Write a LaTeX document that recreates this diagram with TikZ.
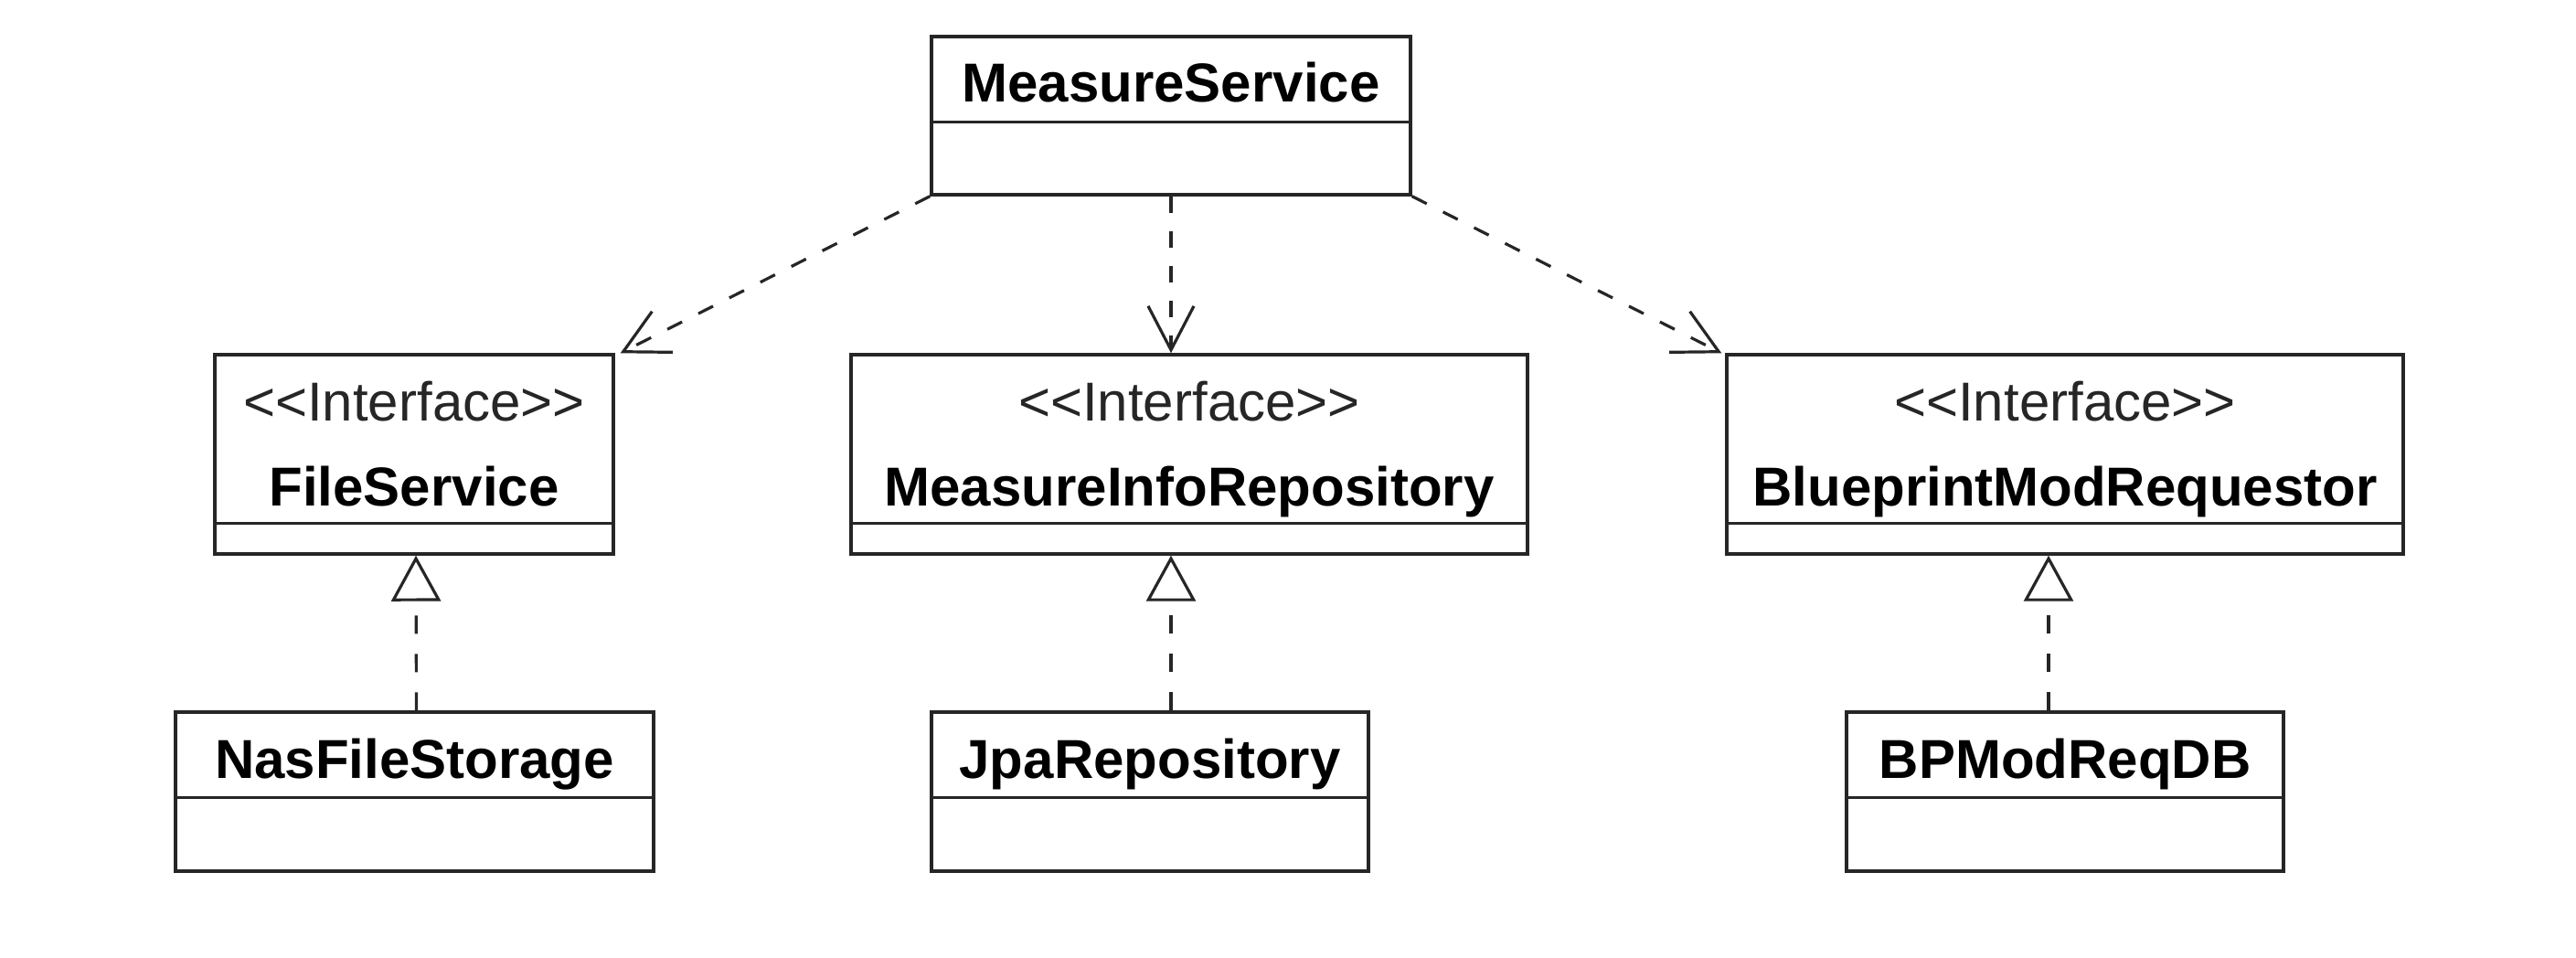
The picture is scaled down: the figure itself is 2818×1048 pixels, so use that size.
\documentclass[tikz,border=0pt]{standalone}
\usepackage{fontspec}
\setmainfont{Liberation Sans}
\usetikzlibrary{arrows.meta}
\newcommand{\stereoInterface}{<\kern0pt<\kern0pt Interface\kern0pt>\kern0pt>}
\begin{document}
\begin{tikzpicture}[x=0.25pt,y=-0.25pt,
  classbox/.style={draw=black!85, line width=0.85pt, rectangle, inner sep=0pt, fill=white},
  nametext/.style={anchor=base, inner sep=0pt, font=\fontsize{15pt}{18pt}\selectfont\bfseries, text=black},
  stereotext/.style={anchor=base, inner sep=0pt, font=\fontsize{15pt}{18pt}\selectfont, text=black!85},
  divline/.style={draw=black!85, line width=0.85pt},
  dep/.style={draw=black!85, line width=0.8pt, dash pattern=on 4.5pt off 5pt,
    -{Straight Barb[length=12pt,width=12.5pt,line width=0.8pt]}},
  real/.style={draw=black!85, line width=0.8pt, dash pattern=on 5pt off 5.5pt,
    -{Triangle[length=12.5pt,width=13.5pt,fill=white,line width=0.8pt]}}
]
\useasboundingbox (0,0) rectangle (2818,1048);

% boxes
\node[classbox, minimum width=131pt, minimum height=43.25pt] (ms) at (1281,126.5) {};
\node[classbox, minimum width=109pt, minimum height=54.5pt] (fs) at (453,497) {};
\node[classbox, minimum width=185pt, minimum height=54.5pt] (mir) at (1301,497) {};
\node[classbox, minimum width=185pt, minimum height=54.5pt] (bpr) at (2259,497) {};
\node[classbox, minimum width=130.75pt, minimum height=43.5pt] (nfs) at (453.5,866) {};
\node[classbox, minimum width=119.5pt, minimum height=43.5pt] (jpa) at (1258,866) {};
\node[classbox, minimum width=119.5pt, minimum height=43.5pt] (bpdb) at (2259,866) {};

% compartment dividers
\draw[divline] ([yshift=20.25pt]ms.south west) -- ([yshift=20.25pt]ms.south east);
\draw[divline] ([yshift=8.75pt]fs.south west) -- ([yshift=8.75pt]fs.south east);
\draw[divline] ([yshift=8.75pt]mir.south west) -- ([yshift=8.75pt]mir.south east);
\draw[divline] ([yshift=8.75pt]bpr.south west) -- ([yshift=8.75pt]bpr.south east);
\draw[divline] ([yshift=20.5pt]nfs.south west) -- ([yshift=20.5pt]nfs.south east);
\draw[divline] ([yshift=20.5pt]jpa.south west) -- ([yshift=20.5pt]jpa.south east);
\draw[divline] ([yshift=20.5pt]bpdb.south west) -- ([yshift=20.5pt]bpdb.south east);

% texts
\node[nametext] (msT) at ([yshift=-18.25pt]ms.north) {MeasureService};
\node[stereotext] (fsS) at ([yshift=-18.5pt]fs.north) {\stereoInterface};
\node[nametext] (fsT) at ([yshift=-41.75pt]fs.north) {FileService};
\node[stereotext] (mirS) at ([yshift=-18.5pt]mir.north) {\stereoInterface};
\node[nametext] (mirT) at ([yshift=-41.75pt]mir.north) {MeasureInfoRepository};
\node[stereotext] (bprS) at ([yshift=-18.5pt]bpr.north) {\stereoInterface};
\node[nametext] (bprT) at ([yshift=-41.75pt]bpr.north) {BlueprintModRequestor};
\node[nametext] (nfsT) at ([yshift=-18.5pt]nfs.north) {NasFileStorage};
\node[nametext] (jpaT) at ([yshift=-18.5pt]jpa.north) {JpaRepository};
\node[nametext] (bpdbT) at ([yshift=-18.5pt]bpdb.north) {BPModReqDB};

% dependencies
\draw[dep] (ms.south west) -- ([xshift=1.5pt]fs.north east);
\draw[dep] (ms.south) -- (mir.north -| ms.south);
\draw[dep] (ms.south east) -- ([xshift=-1pt]bpr.north west);

% realizations
\draw[real] ([xshift=0.5pt]nfs.north) -- ([xshift=0.5pt]fs.south);
\draw[real] (jpa.north -| ms.south) -- (mir.south -| ms.south);
\draw[real] ([xshift=-4.5pt]bpdb.north) -- ([xshift=-4.5pt]bpr.south);
\end{tikzpicture}
\end{document}
